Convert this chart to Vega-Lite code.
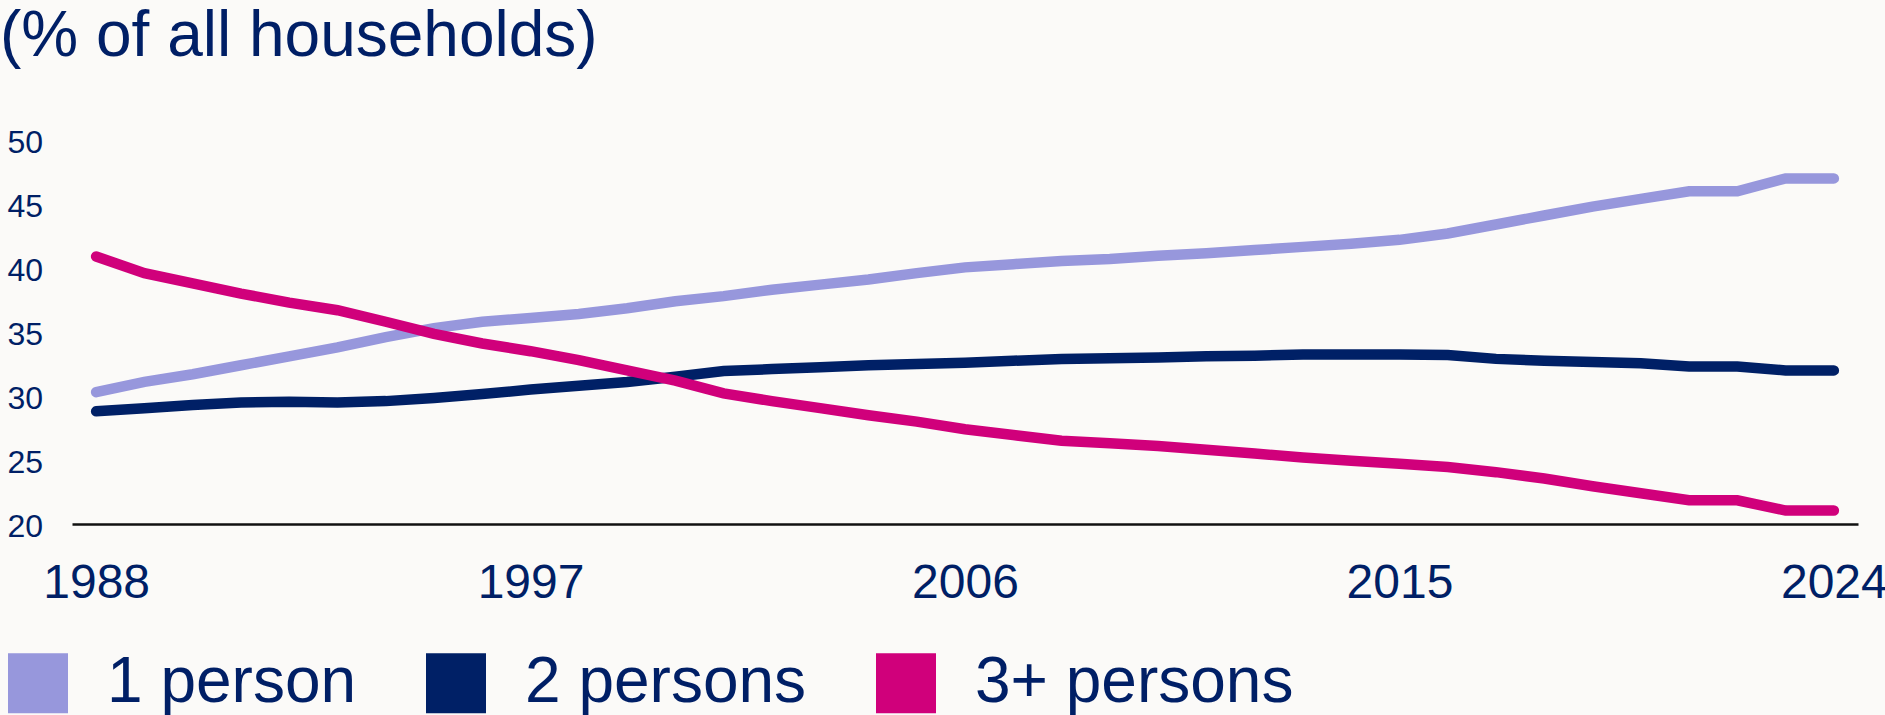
{
  "$schema": "https://vega.github.io/schema/vega-lite/v6.json",
  "width": 1786,
  "height": 384,
  "autosize": {"type": "none"},
  "padding": {"left": 72, "top": 140, "right": 27, "bottom": 191},
  "background": "#FBFAF8",
  "title": {
    "text": "(% of all households)",
    "anchor": "start",
    "frame": "group",
    "dx": -72,
    "offset": 6,
    "baseline": "alphabetic",
    "font": "Liberation Sans",
    "fontSize": 64,
    "fontWeight": "normal",
    "color": "#001F66"
  },
  "config": {
    "view": {"stroke": null},
    "font": "Liberation Sans"
  },
  "data": {
    "values": [
      {"year": 1988, "size": "1 person", "pct": 30.3},
      {"year": 1989, "size": "1 person", "pct": 31.1},
      {"year": 1990, "size": "1 person", "pct": 31.7},
      {"year": 1991, "size": "1 person", "pct": 32.4},
      {"year": 1992, "size": "1 person", "pct": 33.1},
      {"year": 1993, "size": "1 person", "pct": 33.8},
      {"year": 1994, "size": "1 person", "pct": 34.6},
      {"year": 1995, "size": "1 person", "pct": 35.3},
      {"year": 1996, "size": "1 person", "pct": 35.8},
      {"year": 1997, "size": "1 person", "pct": 36.1},
      {"year": 1998, "size": "1 person", "pct": 36.4},
      {"year": 1999, "size": "1 person", "pct": 36.85},
      {"year": 2000, "size": "1 person", "pct": 37.4},
      {"year": 2001, "size": "1 person", "pct": 37.8},
      {"year": 2002, "size": "1 person", "pct": 38.3},
      {"year": 2003, "size": "1 person", "pct": 38.7},
      {"year": 2004, "size": "1 person", "pct": 39.1},
      {"year": 2005, "size": "1 person", "pct": 39.6},
      {"year": 2006, "size": "1 person", "pct": 40.05},
      {"year": 2007, "size": "1 person", "pct": 40.3},
      {"year": 2008, "size": "1 person", "pct": 40.55},
      {"year": 2009, "size": "1 person", "pct": 40.7},
      {"year": 2010, "size": "1 person", "pct": 40.95},
      {"year": 2011, "size": "1 person", "pct": 41.15},
      {"year": 2012, "size": "1 person", "pct": 41.4},
      {"year": 2013, "size": "1 person", "pct": 41.65},
      {"year": 2014, "size": "1 person", "pct": 41.9},
      {"year": 2015, "size": "1 person", "pct": 42.2},
      {"year": 2016, "size": "1 person", "pct": 42.7},
      {"year": 2017, "size": "1 person", "pct": 43.4},
      {"year": 2018, "size": "1 person", "pct": 44.1},
      {"year": 2019, "size": "1 person", "pct": 44.8},
      {"year": 2020, "size": "1 person", "pct": 45.4},
      {"year": 2021, "size": "1 person", "pct": 46.0},
      {"year": 2022, "size": "1 person", "pct": 46.0},
      {"year": 2023, "size": "1 person", "pct": 47.0},
      {"year": 2024, "size": "1 person", "pct": 47.0},
      {"year": 1988, "size": "2 persons", "pct": 28.8},
      {"year": 1989, "size": "2 persons", "pct": 29.05},
      {"year": 1990, "size": "2 persons", "pct": 29.3},
      {"year": 1991, "size": "2 persons", "pct": 29.5},
      {"year": 1992, "size": "2 persons", "pct": 29.55},
      {"year": 1993, "size": "2 persons", "pct": 29.5},
      {"year": 1994, "size": "2 persons", "pct": 29.6},
      {"year": 1995, "size": "2 persons", "pct": 29.85},
      {"year": 1996, "size": "2 persons", "pct": 30.15},
      {"year": 1997, "size": "2 persons", "pct": 30.5},
      {"year": 1998, "size": "2 persons", "pct": 30.8},
      {"year": 1999, "size": "2 persons", "pct": 31.1},
      {"year": 2000, "size": "2 persons", "pct": 31.5},
      {"year": 2001, "size": "2 persons", "pct": 31.95},
      {"year": 2002, "size": "2 persons", "pct": 32.1},
      {"year": 2003, "size": "2 persons", "pct": 32.25},
      {"year": 2004, "size": "2 persons", "pct": 32.4},
      {"year": 2005, "size": "2 persons", "pct": 32.5},
      {"year": 2006, "size": "2 persons", "pct": 32.6},
      {"year": 2007, "size": "2 persons", "pct": 32.75},
      {"year": 2008, "size": "2 persons", "pct": 32.9},
      {"year": 2009, "size": "2 persons", "pct": 32.95},
      {"year": 2010, "size": "2 persons", "pct": 33.0},
      {"year": 2011, "size": "2 persons", "pct": 33.1},
      {"year": 2012, "size": "2 persons", "pct": 33.15},
      {"year": 2013, "size": "2 persons", "pct": 33.25},
      {"year": 2014, "size": "2 persons", "pct": 33.25},
      {"year": 2015, "size": "2 persons", "pct": 33.25},
      {"year": 2016, "size": "2 persons", "pct": 33.2},
      {"year": 2017, "size": "2 persons", "pct": 32.9},
      {"year": 2018, "size": "2 persons", "pct": 32.75},
      {"year": 2019, "size": "2 persons", "pct": 32.65},
      {"year": 2020, "size": "2 persons", "pct": 32.55},
      {"year": 2021, "size": "2 persons", "pct": 32.3},
      {"year": 2022, "size": "2 persons", "pct": 32.3},
      {"year": 2023, "size": "2 persons", "pct": 32.0},
      {"year": 2024, "size": "2 persons", "pct": 32.0},
      {"year": 1988, "size": "3+ persons", "pct": 40.9},
      {"year": 1989, "size": "3+ persons", "pct": 39.6},
      {"year": 1990, "size": "3+ persons", "pct": 38.8},
      {"year": 1991, "size": "3+ persons", "pct": 38.0},
      {"year": 1992, "size": "3+ persons", "pct": 37.3},
      {"year": 1993, "size": "3+ persons", "pct": 36.7},
      {"year": 1994, "size": "3+ persons", "pct": 35.8},
      {"year": 1995, "size": "3+ persons", "pct": 34.85},
      {"year": 1996, "size": "3+ persons", "pct": 34.1},
      {"year": 1997, "size": "3+ persons", "pct": 33.5},
      {"year": 1998, "size": "3+ persons", "pct": 32.8},
      {"year": 1999, "size": "3+ persons", "pct": 32.0},
      {"year": 2000, "size": "3+ persons", "pct": 31.2},
      {"year": 2001, "size": "3+ persons", "pct": 30.2},
      {"year": 2002, "size": "3+ persons", "pct": 29.6},
      {"year": 2003, "size": "3+ persons", "pct": 29.05},
      {"year": 2004, "size": "3+ persons", "pct": 28.5},
      {"year": 2005, "size": "3+ persons", "pct": 28.0},
      {"year": 2006, "size": "3+ persons", "pct": 27.4},
      {"year": 2007, "size": "3+ persons", "pct": 26.95},
      {"year": 2008, "size": "3+ persons", "pct": 26.5},
      {"year": 2009, "size": "3+ persons", "pct": 26.3},
      {"year": 2010, "size": "3+ persons", "pct": 26.1},
      {"year": 2011, "size": "3+ persons", "pct": 25.8},
      {"year": 2012, "size": "3+ persons", "pct": 25.5},
      {"year": 2013, "size": "3+ persons", "pct": 25.2},
      {"year": 2014, "size": "3+ persons", "pct": 24.95},
      {"year": 2015, "size": "3+ persons", "pct": 24.7},
      {"year": 2016, "size": "3+ persons", "pct": 24.45},
      {"year": 2017, "size": "3+ persons", "pct": 24.05},
      {"year": 2018, "size": "3+ persons", "pct": 23.55},
      {"year": 2019, "size": "3+ persons", "pct": 22.95},
      {"year": 2020, "size": "3+ persons", "pct": 22.4},
      {"year": 2021, "size": "3+ persons", "pct": 21.85},
      {"year": 2022, "size": "3+ persons", "pct": 21.85},
      {"year": 2023, "size": "3+ persons", "pct": 21.05},
      {"year": 2024, "size": "3+ persons", "pct": 21.05}
    ]
  },
  "mark": {"type": "line", "strokeWidth": 10.5, "strokeCap": "round", "clip": false},
  "encoding": {
    "x": {
      "field": "year",
      "type": "quantitative",
      "scale": {"domain": [1987.5, 2024.5], "nice": false, "zero": false},
      "axis": {
        "title": null,
        "values": [1988, 1997, 2006, 2015, 2024],
        "format": "d",
        "grid": false,
        "ticks": false,
        "tickSize": 0,
        "domain": true,
        "domainColor": "#111111",
        "domainWidth": 2.5,
        "labelFont": "Liberation Sans",
        "labelFontSize": 48,
        "labelColor": "#001F66",
        "labelPadding": 35,
        "labelFlush": false,
        "labelOverlap": false
      }
    },
    "y": {
      "field": "pct",
      "type": "quantitative",
      "scale": {"domain": [20, 50], "nice": false, "zero": false},
      "axis": {
        "title": null,
        "values": [20, 25, 30, 35, 40, 45, 50],
        "grid": false,
        "ticks": false,
        "tickSize": 0,
        "domain": false,
        "labelFont": "Liberation Sans",
        "labelFontSize": 32,
        "labelColor": "#001F66",
        "labelAlign": "left",
        "labelBaseline": "middle",
        "labelPadding": 65,
        "labelOffset": 2,
        "labelFlush": false,
        "labelOverlap": false
      }
    },
    "color": {
      "field": "size",
      "type": "nominal",
      "scale": {
        "domain": ["1 person", "2 persons", "3+ persons"],
        "range": ["#9797DC", "#002066", "#D0007B"]
      },
      "legend": {
        "title": null,
        "orient": "none",
        "direction": "horizontal",
        "legendX": -66,
        "legendY": 511,
        "padding": 0,
        "symbolType": "square",
        "symbolSize": 3249,
        "symbolStrokeWidth": 3,
        "symbolStrokeColor": "#3C3C5E",
        "labelFont": "Liberation Sans",
        "labelFontSize": 64,
        "labelColor": "#001F66",
        "labelOffset": 37,
        "labelLimit": 0,
        "columnPadding": 64,
        "encode": {
          "symbols": {
            "update": {
              "fill": {"scale": "color", "field": "value"},
              "stroke": {"value": "#3C3C5E"},
              "strokeWidth": {"value": 3},
              "opacity": {"value": 1}
            }
          }
        }
      }
    }
  }
}
